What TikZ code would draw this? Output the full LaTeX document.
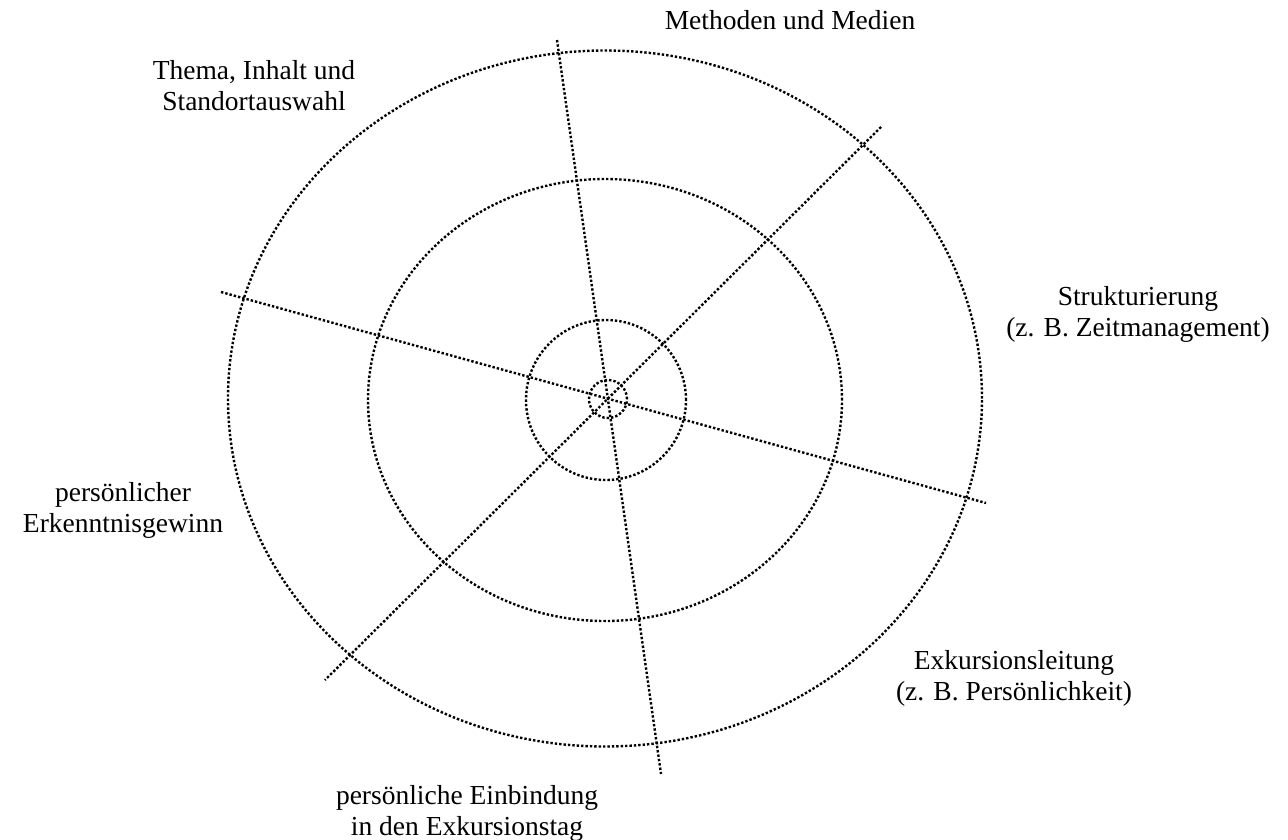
\documentclass[tikz,border=0pt]{standalone}
\usepackage{fontspec}
\setmainfont{Liberation Serif}
\begin{document}
\begin{tikzpicture}[x=1pt,y=-1pt,
  dotline/.style={line width=2.4pt,dash pattern=on 2.4pt off 2pt,color=black},
  lbl/.style={align=center,inner sep=0pt,font=\fontsize{27.5}{31}\selectfont,text=black}]
\useasboundingbox (0,0) rectangle (1288,839);
% rings
\draw[dotline] (605,398.5) ellipse [x radius=377pt, y radius=348pt];
\draw[dotline] (605,400) ellipse [x radius=237pt, y radius=221pt];
\draw[dotline] (606,400) circle [radius=80pt];
\draw[dotline] (608,399) circle [radius=19pt];
% axes
\coordinate (a1) at (557,40);
\coordinate (b1) at (661,774);
\coordinate (a2) at (881,127);
\coordinate (b2) at (325,680);
\coordinate (a3) at (221,292);
\coordinate (b3) at (986,503);
\draw[dotline] (a1) -- (b1);
\draw[dotline] (a2) -- (b2);
\draw[dotline] (a3) -- (b3);
% labels
\node[lbl] (m) at (790,20) {Methoden und Medien};
\node[lbl] (t) at (254,86) {Thema, Inhalt und\\Standortauswahl};
\node[lbl] (s) at (1138,314) {Strukturierung\\(z. B. Zeitmanagement)};
\node[lbl] (p) at (123,510) {persönlicher\\Erkenntnisgewinn};
\node[lbl] (e) at (1014,678) {Exkursionsleitung\\(z. B. Persönlichkeit)};
\node[lbl] (i) at (467,813) {persönliche Einbindung\\in den Exkursionstag};
\end{tikzpicture}
\end{document}
